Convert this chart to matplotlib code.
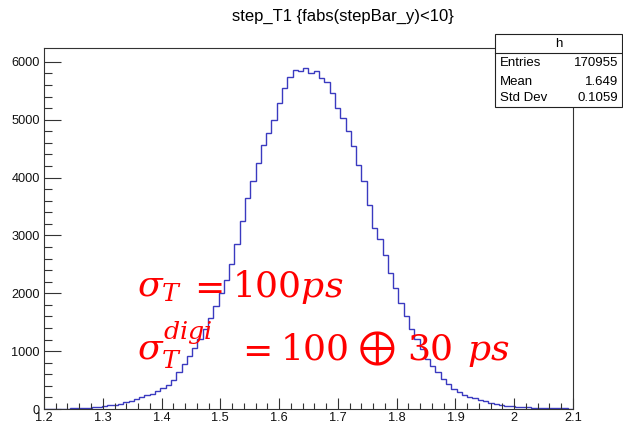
import numpy as np
import matplotlib
matplotlib.use('Agg')
import matplotlib.pyplot as plt
from matplotlib.patches import Rectangle
from matplotlib.lines import Line2D

# histogram h: 100 bins from 1.2 to 2.1
binLow = 1.2
binHigh = 2.1
counts = [3, 4, 5, 6, 7, 9, 12, 16, 22, 30,
          40, 50, 62, 76, 95, 115, 140, 172, 205, 235,
          265, 316, 360, 420, 500, 632, 776, 920, 1063, 1218,
          1379, 1580, 1780, 2000, 2230, 2500, 2850, 3250, 3650, 3950,
          4253, 4569, 4770, 5000, 5287, 5546, 5747, 5862, 5845, 5891,
          5805, 5845, 5718, 5661, 5460, 5201, 5029, 4799, 4540, 4224,
          3936, 3534, 3132, 2931, 2655, 2356, 2098, 1839, 1609, 1379,
          1207, 1034, 862, 747, 632, 517, 431, 345, 295, 240,
          215, 184, 161, 135, 110, 90, 70, 55, 48, 42,
          36, 30, 25, 22, 18, 15, 13, 11, 9, 7]
xTicks = [1.2, 1.3, 1.4, 1.5, 1.6, 1.7, 1.8, 1.9, 2.0, 2.1]
xTickLabels = ['1.2', '1.3', '1.4', '1.5', '1.6', '1.7', '1.8', '1.9', '2', '2.1']
yTicks = [0, 1000, 2000, 3000, 4000, 5000, 6000]
statNames = ['Entries', 'Mean', 'Std Dev']
statValues = ['170955', '1.649', '0.1059']
titleText = 'step_T1 {fabs(stepBar_y)<10}'

# red formula pieces: (text, left edge in pixels, font size, math font)
line1 = [(r'$\sigma_T$', 137, 26, 'dejavuserif'), (r'$=$', 188, 26, 'dejavuserif'),
         (r'$100ps$', 232, 26, 'dejavuserif')]
line2 = [(r'$\sigma_T^{digi}$', 137, 26, 'dejavuserif'), (r'$=$', 236, 26, 'dejavuserif'),
         (r'$100$', 280, 26, 'dejavuserif'), (r'$\oplus$', 357, 33, 'stix'),
         (r'$30$', 407, 26, 'dejavuserif'), (r'$ps$', 467, 26, 'dejavuserif')]

plt.rcParams['font.family'] = ['Liberation Sans', 'DejaVu Sans']
plt.rcParams['mathtext.fontset'] = 'dejavuserif'

figW = 623
fig = plt.figure(figsize=(6.23, 4.25), dpi=100)
ax = fig.add_axes([0.0706, 0.0376, 0.8491, 0.8494])

edges = np.linspace(binLow, binHigh, len(counts) + 1)
ax.stairs(counts, edges, color='#3a3ac0', linewidth=1.0)

ax.set_xlim(binLow, binHigh)
ax.set_ylim(0, 6240)
ax.set_xticks(xTicks)
ax.set_xticklabels(xTickLabels)
ax.set_xticks(np.arange(1.22, 2.1, 0.02), minor=True)
ax.set_yticks(yTicks)
ax.set_yticklabels([str(v) for v in yTicks])
ax.set_yticks(np.arange(200, 6200, 200), minor=True)

ax.tick_params(axis='both', which='both', direction='in', color='#333333', width=0.8,
               labelsize=9.2, labelcolor='#111111')
ax.tick_params(axis='x', which='major', length=8, pad=2.5)
ax.tick_params(axis='x', which='minor', length=4)
ax.tick_params(axis='y', which='major', length=12.2, pad=3)
ax.tick_params(axis='y', which='minor', length=6.1)
for side in ax.spines.values():
    side.set_linewidth(0.8)
    side.set_color('#333333')

fig.text(0.5506, 0.962, titleText, ha='center', va='center', fontsize=12)

# stats box
fig.add_artist(Rectangle((0.7945, 0.7482), 0.2039, 0.1718, transform=fig.transFigure,
                         facecolor='white', edgecolor='#222222', linewidth=0.8))
fig.add_artist(Line2D([0.7945, 0.9984], [0.876, 0.876], transform=fig.transFigure,
                      color='#222222', linewidth=0.8))
fig.text(0.8965, 0.8965, 'h', ha='center', va='center', fontsize=9.5)
rowY = [0.852, 0.808, 0.7694]
for i in range(len(statNames)):
    fig.text(0.8026, rowY[i], statNames[i], ha='left', va='center', fontsize=9.5)
    fig.text(0.992, rowY[i], statValues[i], ha='right', va='center', fontsize=9.5)

# red resolution labels
for txt, px, size, mfont in line1:
    fig.text(px / figW, 0.301, txt, color='red', fontsize=size, ha='left', va='baseline',
             math_fontfamily=mfont)
for txt, px, size, mfont in line2:
    fig.text(px / figW, 0.153, txt, color='red', fontsize=size, ha='left', va='baseline',
             math_fontfamily=mfont)

plt.savefig('out.png', dpi=100)
